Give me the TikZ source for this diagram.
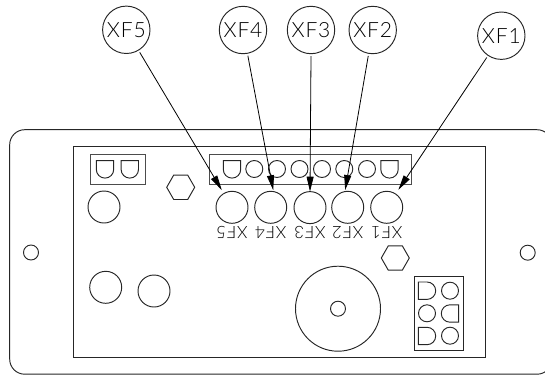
\documentclass[tikz,border=0pt]{standalone}
\usepackage{fontspec}
\setmainfont{Liberation Sans}
\newfontfamily\cadfont[LetterSpace=4]{Lato Light}
\usetikzlibrary{arrows.meta}
\tikzset{
  ln/.style={line width=0.95pt,draw=black!85},
  hole/.style={circle,ln,inner sep=0pt,outer sep=0pt,minimum size=#1*2pt},
  balloon/.style={circle,ln,inner sep=0pt,outer sep=2.5pt,minimum size=47.4pt,font=\cadfont\fontsize{21}{21}\selectfont,text=black},
  tag/.style={rotate=180,inner sep=0pt,font=\cadfont\fontsize{17}{17}\selectfont,text=black},
  leader/.style={line width=0.8pt,draw=black,-{Triangle[length=15pt,width=7pt]}},
  dcup/.pic={\draw[ln] (-8.7,-8.7) -- (8.7,-8.7) -- (8.7,0) arc (0:180:8.7) -- cycle;},
  hexa/.pic={\draw[ln] (14,0) -- (7,12.2) -- (-7,12.2) -- (-14,0) -- (-7,-12.2) -- (7,-12.2) -- cycle;}
}
\begin{document}
\begin{tikzpicture}[x=1pt,y=-1pt]
\useasboundingbox (0,0) rectangle (545,375);
\clip (0,0) rectangle (545,375);
% plate and panel
\draw[ln,rounded corners=15pt] (9.7,129.7) rectangle (552,374.2);
\draw[ln] (73,146.7) rectangle (485,357);
\node[hole=7.5] (hl) at (31,252.5) {};
\node[hole=7.5] (hr) at (527.7,252.7) {};
% top left block
\draw[ln,draw=black!70] (90,154.3) rectangle (145,184.3);
\pic at (105,169.4) {dcup};
\pic at (129.8,169.4) {dcup};
\node[hole=16] (k1) at (104,207) {};
\pic at (180.7,187.3) {hexa};
% terminal strip
\draw[ln,draw=black!70] (209.7,154.3) rectangle (411.7,184.3);
\pic at (232,169.4) {dcup};
\foreach \i/\x in {1/254.3,2/277,3/299.5,4/322,5/344.3,6/367}{
  \node[hole=8.5] (s\i) at (\x,169) {};
}
\pic at (389.5,169.4) {dcup};
% row of switches
\node[hole=16] (c5) at (232,207.3) {};
\node[hole=16] (c4) at (270.7,207.3) {};
\node[hole=16] (c3) at (310,207.6) {};
\node[hole=16] (c2) at (347.7,207.3) {};
\node[hole=16] (c1) at (386.7,207.3) {};
\node[tag] (t5) at (232,232.8) {XF5};
\node[tag] (t4) at (270.7,232.8) {XF4};
\node[tag] (t3) at (310,232.8) {XF3};
\node[tag] (t2) at (347.7,232.8) {XF2};
\node[tag] (t1) at (386.7,232.8) {XF1};
% lower parts
\node[hole=16] (k2) at (105.7,287.3) {};
\node[hole=16] (k3) at (154,291) {};
\node[hole=42.5] (big) at (338,308.7) {};
\node[hole=7.5] (bigc) at (338,308.7) {};
\pic at (395.3,258) {hexa};
\draw[ln] (414,276.3) rectangle (463.3,350);
\pic[rotate=90] at (427,290.7) {dcup};
\node[hole=8.5] (m1) at (450,290.7) {};
\node[hole=8.5] (m2) at (427,313.3) {};
\pic[rotate=-90] at (450,313.5) {dcup};
\pic[rotate=90] at (427,336) {dcup};
\node[hole=8.5] (m3) at (450,335.7) {};
% balloons
\node[balloon] (b5) at (126.3,29.8) {XF5};
\node[balloon] (b4) at (243,30) {XF4};
\node[balloon] (b3) at (311,30) {XF3};
\node[balloon] (b2) at (372.7,30) {XF2};
\node[balloon] (b1) at (501.3,35.7) {XF1};
% leaders
\draw[leader,shorten >=4pt] (b5) -- (c5);
\draw[leader,shorten >=1.3pt] (b4) -- (c4.80);
\draw[leader] (b3.south) -- (c3.north);
\draw[leader,shorten >=1.5pt] (b2) -- (c2.100);
\draw[leader,shorten >=5pt] (b1) -- (c1);
\end{tikzpicture}
\end{document}
